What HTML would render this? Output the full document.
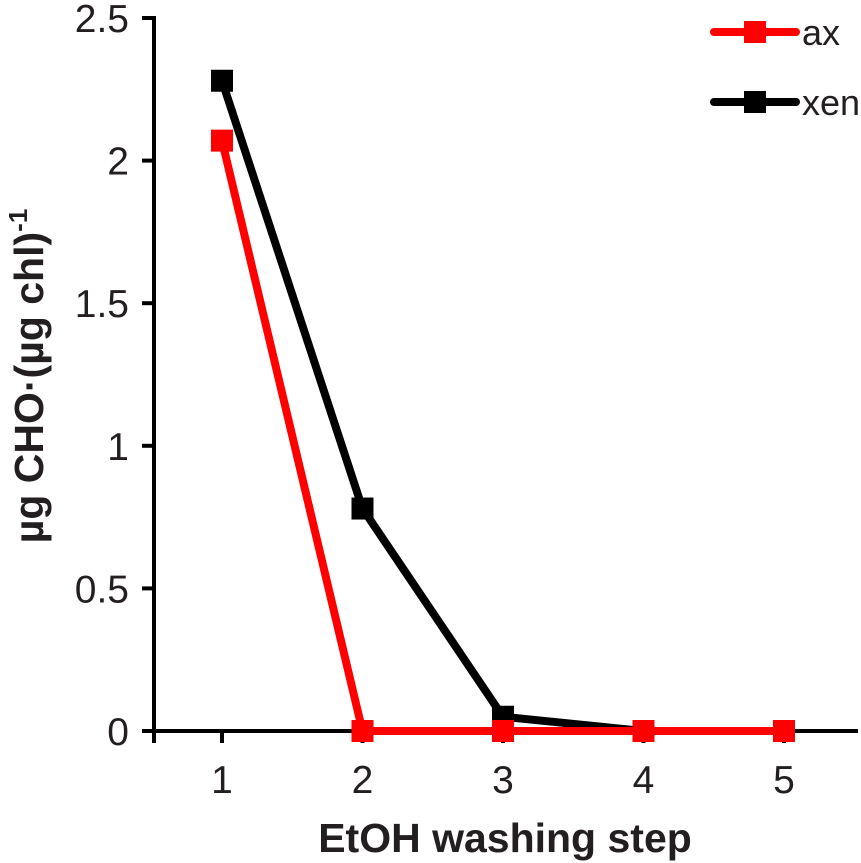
<!DOCTYPE html>
<html><head><meta charset="utf-8"><style>
html,body{margin:0;padding:0;background:#fff;}
svg{display:block;font-family:"Liberation Sans",Arial,sans-serif;}
</style></head><body>
<svg id="chart" width="861" height="863" viewBox="0 0 861 863"></svg>
<script>
const categories = [1, 2, 3, 4, 5];
const axValues = [2.07, 0, 0, 0, 0];
const xenValues = [2.28, 0.78, 0.05, 0, 0];
const yTicks = [0, 0.5, 1, 1.5, 2, 2.5];
const yTickLabels = ["0", "0.5", "1", "1.5", "2", "2.5"];

const svg = document.getElementById('chart');
const NS = 'http://www.w3.org/2000/svg';
function mk(tag, attrs, parent){const e=document.createElementNS(NS,tag);for(const k in attrs)e.setAttribute(k,attrs[k]);(parent||svg).appendChild(e);return e;}
const xS = v => 222 + (v-1)*140.5;
const yS = v => 731 - v*285.2;

let g = mk('g',{});


mk('line',{x1:154,y1:16,x2:154,y2:743,stroke:'#000','stroke-width':4},g);
yTicks.forEach((t,i)=>{
  const y=yS(t);
  const tk=mk('line',{x1:142,y1:y,x2:154,y2:y,stroke:'#000','stroke-width':4},g);
  
  
  const tx=mk('text',{x:129,y:y+14,'text-anchor':'end','font-size':39,fill:'#231f20'},g);
  tx.textContent=yTickLabels[i];
  
  
});
let gx = mk('g',{});


mk('line',{x1:142,y1:731,x2:858,y2:731,stroke:'#000','stroke-width':4},gx);
categories.forEach(c=>{
  const x=xS(c);
  const tk=mk('line',{x1:x,y1:731,x2:x,y2:743,stroke:'#000','stroke-width':4},gx);
  
  
  const tx=mk('text',{x:x,y:793,'text-anchor':'middle','font-size':39,fill:'#231f20'},gx);
  tx.textContent=String(c);
  
  
});
let xt=mk('text',{x:505,y:852,'text-anchor':'middle','font-size':41,'font-weight':'bold',fill:'#231f20'});
xt.textContent='EtOH washing step';


let yt=mk('text',{transform:'translate(43,376) rotate(-90)','text-anchor':'middle','font-size':41,'font-weight':'bold',fill:'#231f20'});
yt.innerHTML='µg CHO·(µg chl)<tspan dy="-16" font-size="26">-1</tspan>';



function series(vals,color,name){
  const sg=mk('g',{});
  
  
  const pts=vals.map((v,i)=>xS(categories[i])+','+yS(v)).join(' ');
  const pl=mk('polyline',{points:pts,fill:'none',stroke:color,'stroke-width':8,'stroke-linejoin':'round'},sg);
  
  
  vals.forEach((v,i)=>{
    const r=mk('rect',{x:xS(categories[i])-11,y:yS(v)-11,width:22,height:22,fill:color},sg);
    
    
  });
}
series(xenValues,'#000','xen');
series(axValues,'#ff0000','ax');

function legend(y,color,label){
  const lg=mk('g',{});
  
  
  mk('line',{x1:714,y1:y,x2:796,y2:y,stroke:color,'stroke-width':8,'stroke-linecap':'round'},lg);
  mk('rect',{x:744,y:y-11,width:22,height:22,fill:color},lg);
  const t=mk('text',{x:802,y:y+13,'font-size':36,fill:'#231f20'},lg);
  t.textContent=label;
}
legend(32,'#ff0000','ax');
legend(102,'#000','xen');
</script>
</body></html>
